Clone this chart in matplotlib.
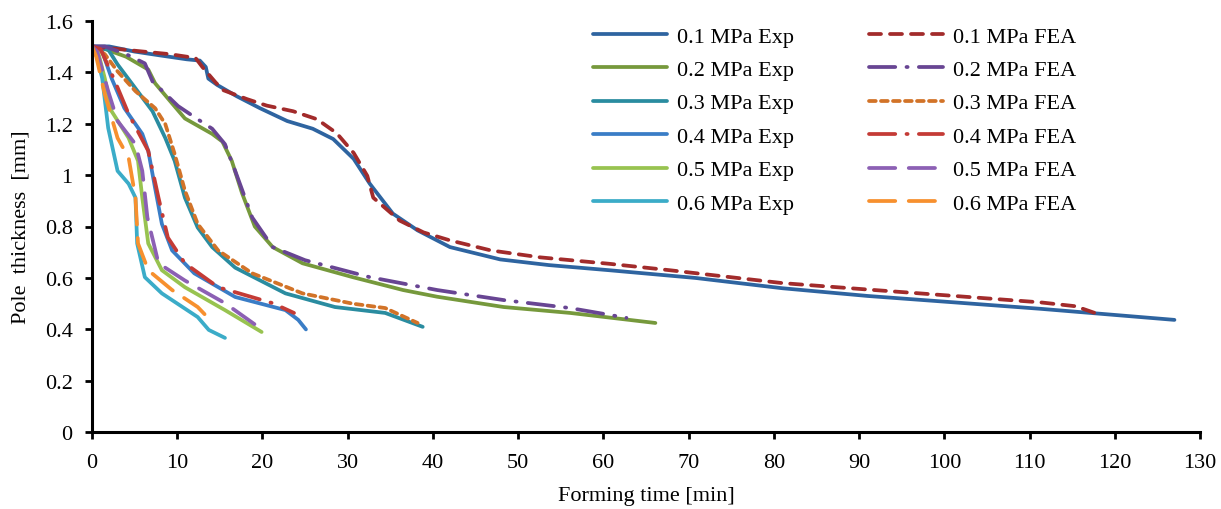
import matplotlib
matplotlib.use("Agg")
import matplotlib.pyplot as plt
from matplotlib.ticker import FormatStrFormatter

# pressures and read-off curves (time in min, thickness in mm)
labels_exp = ["0.1 MPa Exp", "0.2 MPa Exp", "0.3 MPa Exp", "0.4 MPa Exp", "0.5 MPa Exp", "0.6 MPa Exp"]
labels_fea = ["0.1 MPa FEA", "0.2 MPa FEA", "0.3 MPa FEA", "0.4 MPa FEA", "0.5 MPa FEA", "0.6 MPa FEA"]

t_exp_01 = [0, 2, 5, 8, 11.1, 12.65, 13.35, 13.65, 14.7, 17, 19.7, 22.9, 25.9, 28.3, 30.7, 32.6, 35.3, 38.2, 42, 47.9, 53.6, 60.7, 70.8, 81, 91, 101.2, 111.3, 127]
y_exp_01 = [1.5, 1.5, 1.48, 1.465, 1.45, 1.445, 1.42, 1.375, 1.35, 1.306, 1.26, 1.21, 1.18, 1.14, 1.063, 0.966, 0.85, 0.785, 0.72, 0.672, 0.65, 0.63, 0.60, 0.56, 0.53, 0.505, 0.48, 0.437]
t_fea_01 = [0, 3, 6, 9.1, 12.15, 12.95, 14.5, 15.4, 18.2, 20.5, 23.6, 26.4, 28.7, 30.7, 32.3, 33, 36.1, 38.9, 42, 46.8, 52.6, 60.7, 67.8, 81, 91, 101.2, 111.3, 115.4, 118]
y_fea_01 = [1.5, 1.49, 1.48, 1.47, 1.455, 1.42, 1.36, 1.33, 1.295, 1.27, 1.248, 1.217, 1.163, 1.086, 0.997, 0.912, 0.823, 0.777, 0.746, 0.707, 0.68, 0.655, 0.63, 0.58, 0.555, 0.53, 0.505, 0.49, 0.46]

t_exp_02 = [0, 1.5, 4, 6.6, 7.4, 9.1, 10.9, 14.1, 15.3, 16.4, 17.6, 19.1, 21.2, 24.7, 30.6, 36.5, 40.5, 48.3, 56.1, 66.1]
y_exp_02 = [1.5, 1.49, 1.46, 1.41, 1.357, 1.29, 1.22, 1.16, 1.13, 1.055, 0.93, 0.80, 0.72, 0.657, 0.603, 0.553, 0.527, 0.487, 0.464, 0.425]
t_fea_02 = [0, 1.5, 4, 6.2, 7.1, 10.1, 12.4, 14.1, 15.6, 16.8, 18.8, 21.2, 25, 32.6, 40.5, 48.3, 56.1, 62.7]
y_fea_02 = [1.5, 1.5, 1.47, 1.434, 1.364, 1.268, 1.217, 1.18, 1.12, 1.016, 0.835, 0.72, 0.669, 0.603, 0.553, 0.514, 0.483, 0.445]

t_exp_03 = [0, 1.9, 3, 5.1, 7.1, 8.6, 9.7, 10.9, 12.4, 14.1, 16.8, 22.7, 28.5, 34.4, 38.8]
y_exp_03 = [1.5, 1.488, 1.43, 1.337, 1.248, 1.144, 1.055, 0.912, 0.796, 0.72, 0.64, 0.54, 0.487, 0.464, 0.41]
t_fea_03 = [0, 1.5, 3, 5.1, 7.4, 8.6, 9.7, 10.9, 12.4, 14.8, 18.8, 24.7, 30.6, 34.4, 38.2]
y_fea_03 = [1.5, 1.47, 1.403, 1.326, 1.26, 1.198, 1.082, 0.94, 0.81, 0.707, 0.618, 0.54, 0.50, 0.483, 0.425]

t_exp_04 = [0, 1.2, 2.3, 3.8, 5.9, 6.6, 7.4, 8.2, 9.4, 12, 16.8, 22.7, 24.2, 25.1]
y_exp_04 = [1.5, 1.48, 1.376, 1.26, 1.16, 1.094, 0.95, 0.81, 0.707, 0.618, 0.526, 0.475, 0.437, 0.40]
t_fea_04 = [0, 1, 2.7, 4.3, 6.6, 7.8, 8.9, 10.9, 14.8, 21.2, 23.7]
y_fea_04 = [1.5, 1.49, 1.364, 1.237, 1.094, 0.912, 0.757, 0.657, 0.564, 0.502, 0.464]

t_exp_05 = [0, 0.7, 1.5, 2.3, 4.3, 5.4, 5.9, 6.6, 8.2, 10.9, 15.6, 19.9]
y_exp_05 = [1.5, 1.48, 1.376, 1.248, 1.144, 1.055, 0.912, 0.734, 0.63, 0.564, 0.475, 0.39]
t_fea_05 = [0, 0.6, 1.9, 3, 5.1, 5.9, 6.5, 7.8, 10.9, 15.6, 19.5]
y_fea_05 = [1.5, 1.48, 1.326, 1.21, 1.12, 1.016, 0.835, 0.657, 0.59, 0.502, 0.41]

t_exp_06 = [0, 0.5, 1.2, 1.9, 3, 4.3, 5.1, 5.3, 6.2, 8.2, 12.4, 13.7, 15.6]
y_exp_06 = [1.5, 1.47, 1.376, 1.183, 1.016, 0.966, 0.912, 0.734, 0.603, 0.54, 0.448, 0.398, 0.367]
t_fea_06 = [0, 0.5, 1.5, 3, 4.3, 5.1, 5.4, 6.6, 9.4, 12.4, 14.2]
y_fea_06 = [1.5, 1.46, 1.314, 1.144, 1.067, 0.912, 0.734, 0.63, 0.553, 0.487, 0.425]

x_ticks = list(range(0, 131, 10))
y_ticks = [0, 0.2, 0.4, 0.6, 0.8, 1.0, 1.2, 1.4, 1.6]

exp_t = [t_exp_01, t_exp_02, t_exp_03, t_exp_04, t_exp_05, t_exp_06]
exp_y = [y_exp_01, y_exp_02, y_exp_03, y_exp_04, y_exp_05, y_exp_06]
fea_t = [t_fea_01, t_fea_02, t_fea_03, t_fea_04, t_fea_05, t_fea_06]
fea_y = [y_fea_01, y_fea_02, y_fea_03, y_fea_04, y_fea_05, y_fea_06]

exp_colors = ["#2E64A0", "#76993C", "#2A8CA0", "#3A7DC6", "#98C350", "#3BACC8"]
fea_colors = ["#A22B2B", "#684593", "#D27328", "#C43B36", "#8C60B4", "#F7902E"]
# excel style dash patterns
fea_dashes = [(0, (3.2, 2.4)), (0, (7, 3, 0.3, 3)), (0, (1.8, 1.4)),
              (0, (7, 3, 0.3, 3)), (0, (7, 3.6)), (0, (7, 3.6))]

plt.rcParams['font.family'] = ['Liberation Serif', 'DejaVu Serif']
plt.rcParams['font.size'] = 16

fig = plt.figure(figsize=(12.21, 5.10), dpi=100)
ax = fig.add_axes([92 / 1221, 76.7 / 510, 1108 / 1221, 411.6 / 510])

for i in range(6):
    ax.plot(exp_t[i], exp_y[i], color=exp_colors[i], lw=2.7,
            solid_capstyle='round', label=labels_exp[i])
for i in range(6):
    ax.plot(fea_t[i], fea_y[i], color=fea_colors[i], lw=2.7,
            linestyle=fea_dashes[i], dash_capstyle='round', label=labels_fea[i])

ax.set_xlim(0, 130)
ax.set_ylim(0, 1.6)
ax.set_xticks(x_ticks)
ax.set_yticks(y_ticks)
ax.yaxis.set_major_formatter(FormatStrFormatter('%g'))

ax.spines['top'].set_visible(False)
ax.spines['right'].set_visible(False)
ax.spines['left'].set_linewidth(2.2)
ax.spines['bottom'].set_linewidth(2.2)
ax.tick_params(axis='x', direction='out', length=5, width=2, pad=10)
ax.tick_params(axis='y', direction='out', length=5, width=2, pad=9)

ax.set_xlabel("Forming time [min]", labelpad=10)
ax.set_ylabel("Pole  thickness  [mm]", labelpad=10)

ax.legend(loc='upper left', bbox_to_anchor=(0.452, 0.987), ncol=2, frameon=False,
          borderpad=0, borderaxespad=0, handlelength=3.33, columnspacing=3.4,
          labelspacing=0.58, handletextpad=0.45)

plt.savefig("out.png", dpi=100)
